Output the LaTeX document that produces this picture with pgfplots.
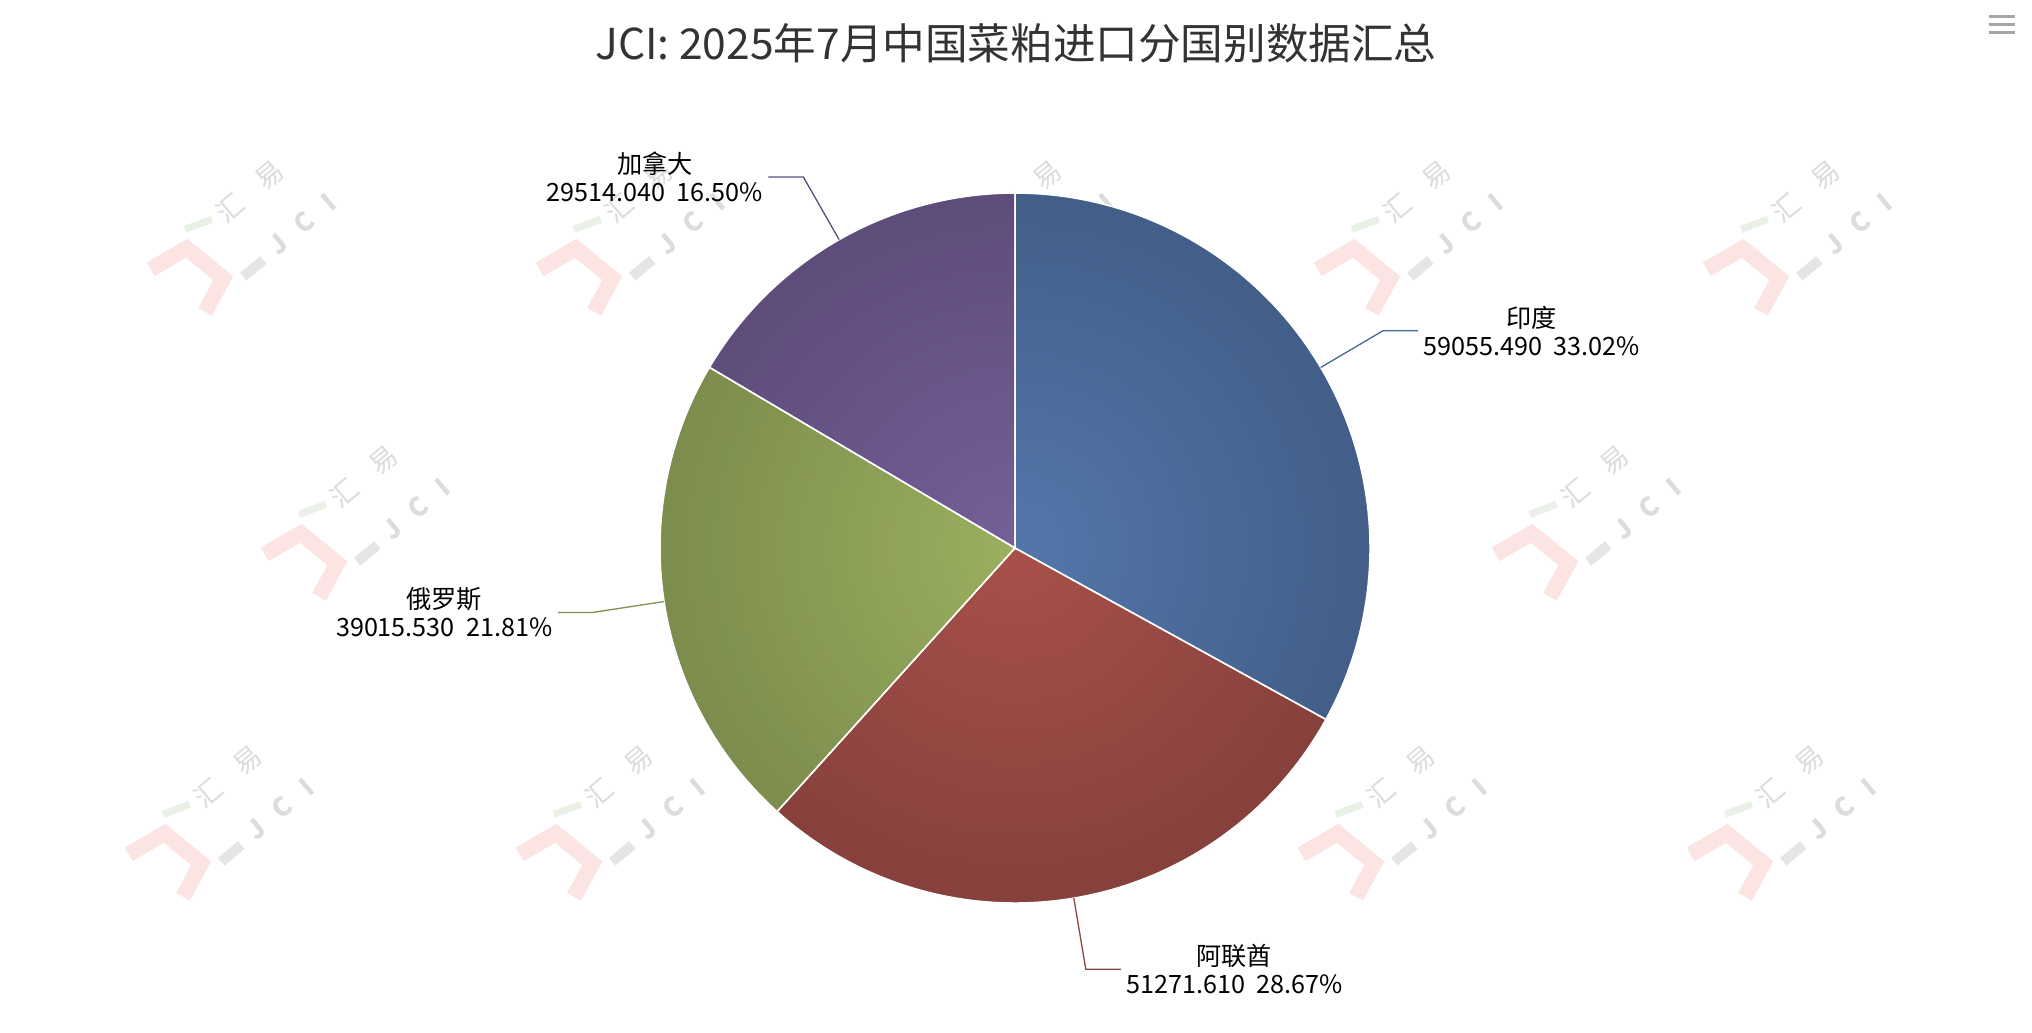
\documentclass[border=0pt]{standalone}
\usepackage{fontspec}
\setmainfont{Noto Sans CJK SC}
\usepackage{pgfplots}
\pgfplotsset{compat=1.18}
\usepackage{pgfplotstable}
\usetikzlibrary{fadings}

\definecolor{cA}{RGB}{84,119,171}
\definecolor{cB}{RGB}{169,81,75}
\definecolor{cC}{RGB}{155,176,96}
\definecolor{cD}{RGB}{118,96,153}
\definecolor{lA}{RGB}{72,103,154}
\definecolor{lB}{RGB}{140,70,68}
\definecolor{lC}{RGB}{125,146,78}
\definecolor{lD}{RGB}{95,78,130}
\definecolor{wmpink}{RGB}{251,228,226}
\definecolor{wmgreen}{RGB}{233,241,230}
\definecolor{wmgrey}{RGB}{229,229,229}
\definecolor{wmtext}{RGB}{220,220,220}
\definecolor{titlec}{RGB}{51,51,51}

\tikzfading[name=pieshade, inner color=transparent!100, outer color=transparent!0]

\pgfplotstableread{
country value
India 59055.490
UAE 51271.610
Russia 39015.530
Canada 29514.040
}\piedata

\pgfplotstablegetelem{0}{value}\of\piedata\edef\vA{\pgfplotsretval}
\pgfplotstablegetelem{1}{value}\of\piedata\edef\vB{\pgfplotsretval}
\pgfplotstablegetelem{2}{value}\of\piedata\edef\vC{\pgfplotsretval}
\pgfplotstablegetelem{3}{value}\of\piedata\edef\vD{\pgfplotsretval}
\edef\T{\fpeval{\vA+\vB+\vC+\vD}}
\edef\aZ{90}
\edef\aA{\fpeval{90-360*\vA/\T}}
\edef\aB{\fpeval{\aA-360*\vB/\T}}
\edef\aC{\fpeval{\aB-360*\vC/\T}}
\edef\aD{\fpeval{\aC-360*\vD/\T}}

\newcommand\labfont{\fontsize{12.6bp}{13.9bp}\selectfont}
\newcommand\pielabel[4]{%
  \edef\m{\fpeval{(#1+#2)/2}}%
  \edef\px{\fpeval{cosd(\m)}}\edef\py{\fpeval{sind(\m)}}%
  \edef\qx{\fpeval{1.203*\px}}\edef\qy{\fpeval{1.203*\py}}%
  \edef\s{\fpeval{sign(\px)}}%
  \edef\rx{\fpeval{\qx+\s*0.0986}}%
  \edef\lx{\fpeval{\rx+\s*0.0141}}%
  \draw[#3, line width=0.65bp] (axis cs:\px,\py) -- (axis cs:\qx,\qy) -- (axis cs:\rx,\qy);
  \ifdim\px pt>0pt
    \node[anchor=west, align=center, inner sep=0pt, font=\labfont, text=black] at (axis cs:\lx,\qy) {#4};
  \else
    \node[anchor=east, align=center, inner sep=0pt, font=\labfont, text=black] at (axis cs:\lx,\qy) {#4};
  \fi
}

\newcommand\wm[2]{%
  \begin{scope}[shift={(#1,#2)}]
    \draw[wmpink, line width=7.8bp, line join=miter, line cap=butt] (150.7,269.3) -- (186.7,248.3) -- (223.3,278.3) -- (205,311.7);
    \draw[wmgreen, line width=3.5bp] (185,229.3) -- (211.7,219.3);
    \draw[wmgrey, line width=5bp] (243.3,276.7) -- (263.3,260);
    \node[rotate=40, text=wmtext, inner sep=0pt, font=\fontsize{13.5bp}{14bp}\selectfont] at (250,192) {汇\hspace{0.9em}易};
    \node[rotate=40, text=wmtext, inner sep=0pt, font=\fontsize{13bp}{14bp}\selectfont\bfseries] at (302,224) {J\hspace{0.7em}C\hspace{0.7em}I};
  \end{scope}}

\begin{document}
\begin{tikzpicture}
\begin{scope}[x=0.5bp, y=-0.5bp]
  \path[use as bounding box] (0,0) rectangle (2032,1032);
  \fill[white] (0,0) rectangle (2032,1032);
  % watermarks
  \foreach \dx in {0,389,778,1167,1556} {\wm{\dx}{0}}
  \foreach \dx in {114,729,1345} {\wm{\dx}{285}}
  \foreach \dx in {-22,369,760,1151,1540} {\wm{\dx}{585}}
  % title
  \node[anchor=center, text=titlec, inner sep=0pt, font=\fontsize{21.3bp}{25bp}\selectfont] at (1016,43) {JCI: 2025年7月中国菜粕进口分国别数据汇总};
  % menu icon
  \foreach \yy in {16.7,24.7,32.7} {\fill[gray!70] (1989,\yy-1.3) rectangle (2015,\yy+1.3);}
\end{scope}

\begin{axis}[
  at={(507.5bp,-274bp)}, anchor=origin,
  scale only axis, width=355bp, height=355bp,
  xmin=-1, xmax=1, ymin=-1, ymax=1,
  hide axis, clip=false,
]
  \addplot[draw=none, fill=cA, domain=\aA:\aZ, samples=90, variable=\t] ({cos(\t)},{sin(\t)}) -- (0,0) -- cycle;
  \addplot[draw=none, fill=cB, domain=\aB:\aA, samples=90, variable=\t] ({cos(\t)},{sin(\t)}) -- (0,0) -- cycle;
  \addplot[draw=none, fill=cC, domain=\aC:\aB, samples=90, variable=\t] ({cos(\t)},{sin(\t)}) -- (0,0) -- cycle;
  \addplot[draw=none, fill=cD, domain=\aD:\aC, samples=90, variable=\t] ({cos(\t)},{sin(\t)}) -- (0,0) -- cycle;
  % radial darkening towards the rim
  \addplot[draw=none, fill=black, fill opacity=0.2, path fading=pieshade, domain=0:360, samples=241] ({cos(x)},{sin(x)}) -- cycle;
  % white borders
  \addplot[draw=white, line width=0.75bp, fill=none, domain=\aA:\aZ, samples=90, variable=\t] ({cos(\t)},{sin(\t)}) -- (0,0) -- cycle;
  \addplot[draw=white, line width=0.75bp, fill=none, domain=\aB:\aA, samples=90, variable=\t] ({cos(\t)},{sin(\t)}) -- (0,0) -- cycle;
  \addplot[draw=white, line width=0.75bp, fill=none, domain=\aC:\aB, samples=90, variable=\t] ({cos(\t)},{sin(\t)}) -- (0,0) -- cycle;
  \addplot[draw=white, line width=0.75bp, fill=none, domain=\aD:\aC, samples=90, variable=\t] ({cos(\t)},{sin(\t)}) -- (0,0) -- cycle;
  % data labels
  \pgfplotsextra{\pielabel{\aZ}{\aA}{lA}{印度\\59055.490\hspace{0.45em}33.02\%}}
  \pgfplotsextra{\pielabel{\aA}{\aB}{lB}{阿联酋\\51271.610\hspace{0.45em}28.67\%}}
  \pgfplotsextra{\pielabel{\aB}{\aC}{lC}{俄罗斯\\39015.530\hspace{0.45em}21.81\%}}
  \pgfplotsextra{\pielabel{\aC}{\aD}{lD}{加拿大\\29514.040\hspace{0.45em}16.50\%}}
\end{axis}
\end{tikzpicture}
\end{document}
